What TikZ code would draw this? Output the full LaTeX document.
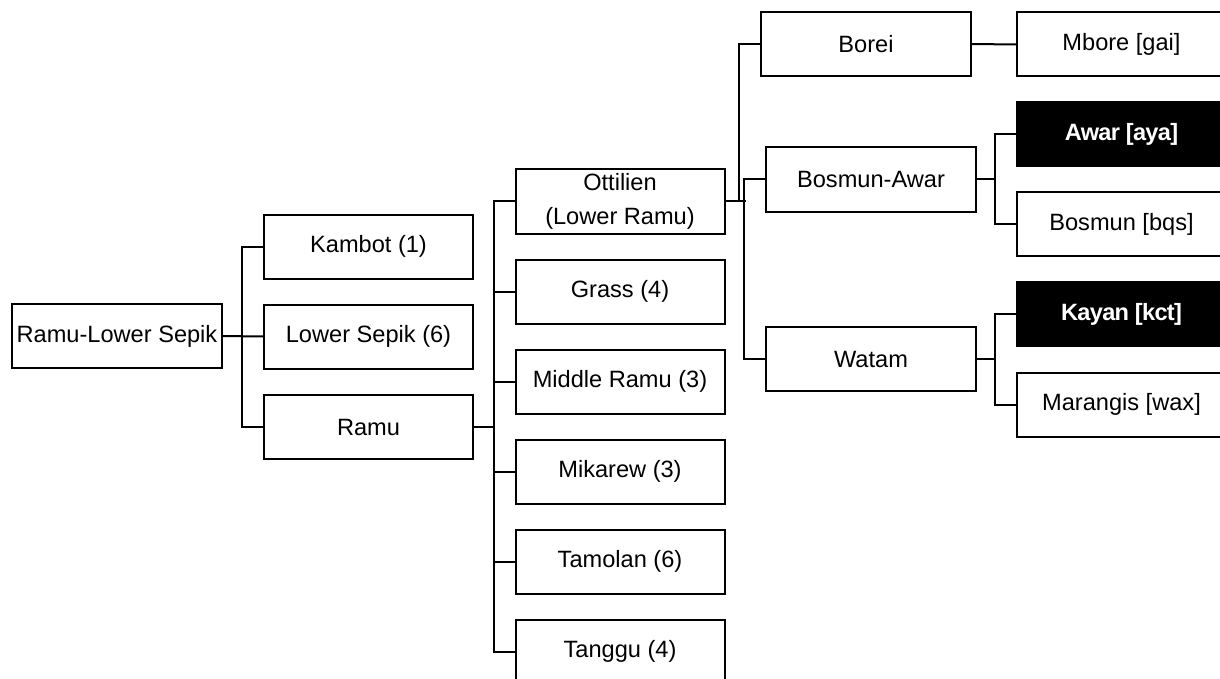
\documentclass[tikz,border=0pt]{standalone}
\usepackage{fontspec}
\setmainfont{Liberation Sans}
\newfontfamily\bcond[LetterSpace=-3]{Liberation Sans}
\begin{document}
\begin{tikzpicture}[x=1pt,y=-1pt,
  box/.style={draw=black, line width=2pt, fill=white, minimum width=209pt, minimum height=64pt,
    inner sep=0pt, align=center, font=\fontsize{23.6}{34}\selectfont},
  darkbox/.style={box, fill=black, text=white, font=\fontsize{23.6}{34}\bcond\bfseries},
  conn/.style={line width=2pt, line join=miter}]
\useasboundingbox (0,0) rectangle (1220,679);
\clip (0,0) rectangle (1220,679);
% level 0
\node[box, minimum width=210pt] (root) at (117,336) {Ramu-Lower Sepik};
% level 1
\node[box] (kambot) at (368.5,246.5) {Kambot (1)};
\node[box] (lsepik) at (368.5,336.5) {Lower Sepik (6)};
\node[box] (ramu) at (368.5,427) {Ramu};
% level 2
\node[box] (ottilien) at (620,201.5) {Ottilien\\(Lower Ramu)};
\node[box] (grass) at (620,291.5) {Grass (4)};
\node[box] (middle) at (620,381.5) {Middle Ramu (3)};
\node[box] (mikarew) at (620,471.5) {Mikarew (3)};
\node[box] (tamolan) at (620,561.5) {Tamolan (6)};
\node[box] (tanggu) at (620,651.5) {Tanggu (4)};
% level 3
\node[box, minimum width=210pt] (borei) at (866,44) {Borei};
\node[box, minimum width=210pt] (bawar) at (871,179.5) {Bosmun-Awar};
\node[box, minimum width=210pt] (watam) at (871,359) {Watam};
% level 4
\node[box] (mbore) at (1121.5,44.5) {Mbore [gai]};
\node[darkbox] (awar) at (1121.5,134) {Awar [aya]};
\node[box] (bosmun) at (1121.5,224) {Bosmun [bqs]};
\node[darkbox] (kayan) at (1121.5,314) {Kayan [kct]};
\node[box] (marangis) at (1121.5,404.5) {Marangis [wax]};
% connectors level 0-1
\draw[conn] (root.east) -- (lsepik.west);
\draw[conn] (kambot.west) -- ++(-21.3,0) coordinate (s1) |- (ramu.west);
% level 1-2
\draw[conn] (ottilien.west) -- ++(-21,0) coordinate (s2) |- (tanggu.west);
\draw[conn] (ramu.east) -- (ramu.east -| s2);
\draw[conn] (grass.west) -- (grass.west -| s2);
\draw[conn] (middle.west) -- (middle.west -| s2);
\draw[conn] (mikarew.west) -- (mikarew.west -| s2);
\draw[conn] (tamolan.west) -- (tamolan.west -| s2);
% level 2-3
\draw[conn] (ottilien.east) -- ++(20,0) coordinate (s3end);
\draw[conn] (borei.west) -- ++(-21,0) |- (ottilien.east);
\draw[conn] (bawar.west) -- ++(-21,0) coordinate (s4) |- (watam.west);
% level 3-4
\draw[conn] (borei.east) -- (mbore.west);
\draw[conn] (awar.west) -- ++(-21,0) coordinate (s5) |- (bosmun.west);
\draw[conn] (bawar.east) -- (bawar.east -| s5);
\draw[conn] (kayan.west) -- ++(-21,0) coordinate (s6) |- (marangis.west);
\draw[conn] (watam.east) -- (watam.east -| s6);
\end{tikzpicture}
\end{document}
